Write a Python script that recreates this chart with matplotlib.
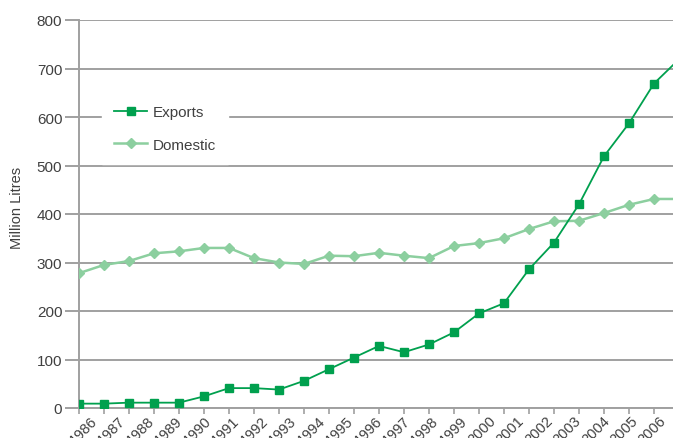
import matplotlib
matplotlib.use("Agg")
import matplotlib.pyplot as plt
import numpy as np

plt.rcParams['font.family'] = ['Liberation Sans', 'DejaVu Sans']

# Data (24 plotted points + one beyond the right edge, as in the reference)
exports = [9, 9, 11, 11, 11, 24, 41, 41, 38, 56, 80, 104, 128, 115, 131, 156,
           195, 216, 286, 341, 420, 519, 587, 669, 719]
domestic = [278, 295, 303, 319, 323, 330, 330, 309, 300, 297, 314, 313, 320, 314,
            309, 334, 340, 350, 369, 385, 386, 402, 419, 431, 431]
year_labels = [str(y) for y in range(1986, 2007)]
yticks = [0, 100, 200, 300, 400, 500, 600, 700, 800]

W, H = 673, 439
fig = plt.figure(figsize=(W / 100, H / 100), dpi=100)
ax = fig.add_axes([79 / W, 1 - 409 / H, (W - 79) / W, (409 - 21) / H])

x = np.arange(len(exports))
c_exp = '#00a04e'
c_dom = '#8ccf9f'
grid_c = '#a0a0a0'
text_c = '#404040'

ax.plot(x, domestic, color=c_dom, lw=1.8, marker='D', ms=5.3, mec=c_dom, mfc=c_dom,
        label='Domestic', zorder=3)
ax.plot(x, exports, color=c_exp, lw=1.3, marker='s', ms=5.3, mec=c_exp, mfc=c_exp,
        label='Exports', zorder=4)

ax.set_xlim(0, (W - 79) / 25.0)
ax.set_ylim(0, 800)
ax.set_yticks(yticks)
ax.set_yticklabels([str(v) for v in yticks], fontsize=11, color=text_c)
ax.set_xticks(np.arange(0, 24))
ax.set_xticklabels([])
ax.yaxis.grid(True, color=grid_c, lw=1.4)
ax.set_axisbelow(True)

for s in ['top', 'right']:
    ax.spines[s].set_visible(False)
for s in ['left', 'bottom']:
    ax.spines[s].set_color(grid_c)
    ax.spines[s].set_linewidth(1.4)
ax.tick_params(axis='y', length=10, width=1.4, color=grid_c, pad=2)
ax.tick_params(axis='x', length=4, width=1.2, color=grid_c)

ax.set_ylabel('Million Litres', fontsize=10.5, color=text_c)
ax.yaxis.set_label_coords((24 - 79) / (W - 79), (409 - 207.5) / 388)

# Year labels spread evenly across the axis, rotated
for i, lab in enumerate(year_labels):
    px = 100 + i * 28.45
    fig.text(px / W, 1 - 414 / H, lab, rotation=45, ha='right', va='top',
             fontsize=10.5, color=text_c)

handles, labels = ax.get_legend_handles_labels()
leg = ax.legend(handles[::-1], labels[::-1], loc='upper left',
                bbox_to_anchor=((102 - 79) / (W - 79), (409 - 94) / 388),
                frameon=True, facecolor='white', edgecolor='white', framealpha=1,
                fancybox=False, fontsize=11, handlelength=2.15, handletextpad=0.35,
                labelspacing=1.2, borderpad=0.8, borderaxespad=0)
for t in leg.get_texts():
    t.set_color(text_c)
leg.set_zorder(5)

fig.savefig('out.png', dpi=100)
